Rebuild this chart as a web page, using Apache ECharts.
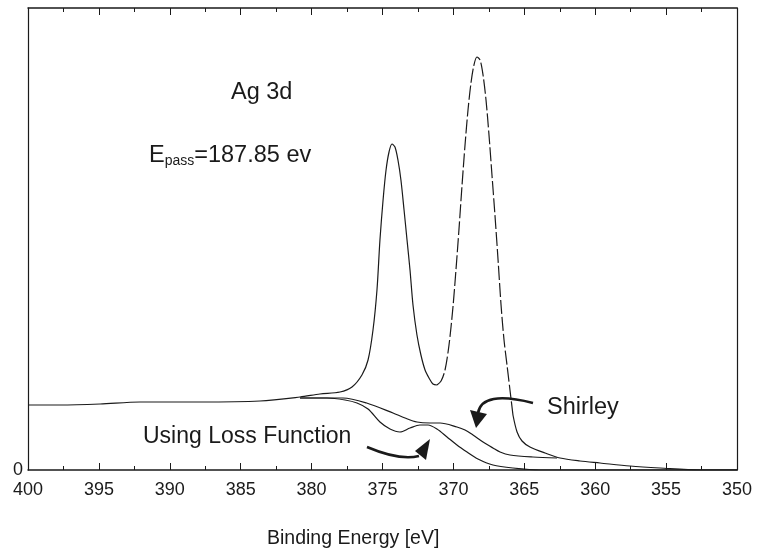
<!DOCTYPE html>
<html>
<head>
<meta charset="utf-8">
<script src="https://cdn.jsdelivr.net/npm/echarts@6/dist/echarts.min.js"></script>
<style>
html, body { margin: 0; background: #fff; }
#chart { width: 760px; height: 553px; }
</style>
</head>
<body>
<div id="chart"></div>
<script>
// Ag 3d spectrum, binding energy (eV) vs intensity (arb.)
const specE = [400.00, 397.74, 394.92, 392.10, 387.87, 383.64, 380.82, 379.41, 378.00, 377.15,
  376.45, 376.02, 375.67, 375.39, 375.18, 374.96, 374.75, 374.54, 374.33, 374.12,
  373.91, 373.70, 373.48, 373.27, 373.06, 372.85, 372.57, 372.29, 372.00, 371.72,
  371.44, 371.16, 370.87, 370.59, 370.31, 370.03, 369.82, 369.61, 369.39, 369.18,
  368.97, 368.76, 368.55, 368.34, 368.12, 367.91, 367.70, 367.49, 367.28, 367.07,
  366.85, 366.64, 366.43, 366.22, 366.01, 365.80, 365.51, 365.16, 364.60, 363.54,
  362.48, 361.07, 359.66, 357.55, 355.43, 352.61, 350.00];
const specI = [65, 65, 66, 68, 68, 69, 73, 76, 78, 83,
  95, 110, 140, 180, 230, 270, 300, 318, 326, 323,
  310, 290, 260, 230, 200, 165, 135, 115, 100, 92,
  86, 85, 89, 100, 125, 163, 200, 240, 285, 325,
  360, 387, 405, 413, 410, 395, 370, 335, 295, 255,
  210, 165, 130, 105, 80, 55, 38, 29, 23, 17,
  12, 9, 7, 4, 2, 0, 0];

const shirleyE = [380.82, 377.79, 376.12, 374.26, 373.41, 372.57, 371.65, 370.94, 369.75, 369.18,
  368.62, 367.91, 367.21, 366.71, 366.01, 364.39, 362.69];
const shirleyI = [72, 72, 67, 57, 52, 48, 47, 47, 43, 40,
  35, 28, 22, 18, 15, 13, 12];

const lossE = [380.82, 378.91, 377.64, 376.80, 376.02, 375.18, 374.47, 373.77, 373.06, 372.36,
  371.79, 371.16, 370.45, 369.75, 369.04, 368.27, 367.21, 365.80, 363.89, 350.00];
const lossI = [72, 72, 70, 67, 61, 48, 41, 38, 42, 45,
  45, 41, 33, 25, 18, 11, 5, 2, 0, 0];

const xTickLabels = [400, 395, 390, 385, 380, 375, 370, 365, 360, 355, 350];

const pairs = (e, v) => e.map((x, i) => [x, v[i]]);
const spec = pairs(specE, specI);
// the second peak is drawn dashed in the original
const specSolidA = spec.filter(p => p[0] >= 371.16);
const specDashed = spec.filter(p => p[0] <= 371.16 && p[0] >= 365.80);
const specSolidB = spec.filter(p => p[0] <= 365.80);

const font = 'Liberation Sans, Arial, sans-serif';
const ink = '#1a1a1a';

const chart = echarts.init(document.getElementById('chart'));

const lineStyle = { color: ink, width: 1.2 };
function curve(data, type) {
  return {
    type: 'line', data: data, showSymbol: false, smooth: 0.3,
    lineStyle: Object.assign({}, lineStyle, type ? { type: type } : {}),
    animation: false, silent: true
  };
}

const option = {
  backgroundColor: '#fff',
  grid: { left: 28, right: 23, top: 8, bottom: 83 },
  xAxis: [{
    type: 'value', min: 350, max: 400, interval: 5, inverse: true,
    axisLine: { onZero: false, lineStyle: { color: ink, width: 1.5 } },
    axisTick: { inside: true, length: 7, lineStyle: { color: ink } },
    minorTick: { show: true, splitNumber: 2, length: 4, lineStyle: { color: ink } },
    splitLine: { show: false },
    axisLabel: {
      color: ink, fontFamily: font, fontSize: 18, margin: 11,
      formatter: v => xTickLabels.indexOf(v) >= 0 ? String(v) : ''
    }
  }, {
    type: 'value', min: 350, max: 400, interval: 5, inverse: true, position: 'top',
    axisLine: { onZero: false, lineStyle: { color: ink, width: 1.5 } },
    axisTick: { inside: true, length: 7, lineStyle: { color: ink } },
    minorTick: { show: true, splitNumber: 2, length: 4, lineStyle: { color: ink } },
    splitLine: { show: false },
    axisLabel: { show: false }
  }],
  yAxis: [{
    type: 'value', min: 0, max: 462, interval: 462,
    axisLine: { show: true, onZero: false, lineStyle: { color: ink, width: 1.2 } },
    axisTick: { show: false },
    splitLine: { show: false },
    axisLabel: {
      color: ink, fontFamily: font, fontSize: 18, margin: 5,
      formatter: v => v === 0 ? '0' : ''
    }
  }, {
    type: 'value', min: 0, max: 462, position: 'right',
    axisLine: { show: true, onZero: false, lineStyle: { color: ink, width: 1.2 } },
    axisTick: { show: false }, axisLabel: { show: false }, splitLine: { show: false }
  }],
  series: [
    curve(specSolidA),
    curve(specDashed, [14, 3]),
    curve(specSolidB),
    curve(pairs(shirleyE, shirleyI)),
    curve(pairs(lossE, lossI))
  ],
  graphic: [
    { type: 'text', left: 231, top: 81,
      style: { text: 'Ag 3d', fontFamily: font, fontSize: 23.5, fill: ink } },
    { type: 'text', left: 149, top: 144,
      style: {
        text: '{e|E}{s|pass}{e|=187.85 ev}',
        rich: {
          e: { fontFamily: font, fontSize: 23.5, fill: ink, verticalAlign: 'bottom' },
          s: { fontFamily: font, fontSize: 14, fill: ink, padding: [10, 0, 0, 0], verticalAlign: 'bottom' }
        }
      } },
    { type: 'text', left: 547, top: 396,
      style: { text: 'Shirley', fontFamily: font, fontSize: 23.5, fill: ink } },
    { type: 'text', left: 143, top: 425,
      style: { text: 'Using Loss Function', fontFamily: font, fontSize: 23, fill: ink } },
    { type: 'text', left: 267, top: 529,
      style: { text: 'Binding Energy [eV]', fontFamily: font, fontSize: 19.5, fill: ink } },
    // Shirley arrow
    { type: 'bezierCurve',
      shape: { x1: 533, y1: 403, cpx1: 482, cpy1: 390, x2: 478, y2: 413 },
      style: { stroke: ink, lineWidth: 2.6, fill: null } },
    { type: 'polygon', shape: { points: [[470, 410], [487, 414], [476, 428]] },
      style: { fill: ink } },
    // loss function arrow
    { type: 'bezierCurve',
      shape: { x1: 367, y1: 447, cpx1: 400, cpy1: 461, x2: 419, y2: 456 },
      style: { stroke: ink, lineWidth: 2.6, fill: null } },
    { type: 'polygon', shape: { points: [[415, 451], [426, 460], [430, 439]] },
      style: { fill: ink } }
  ]
};

chart.setOption(option);
</script>
</body>
</html>
